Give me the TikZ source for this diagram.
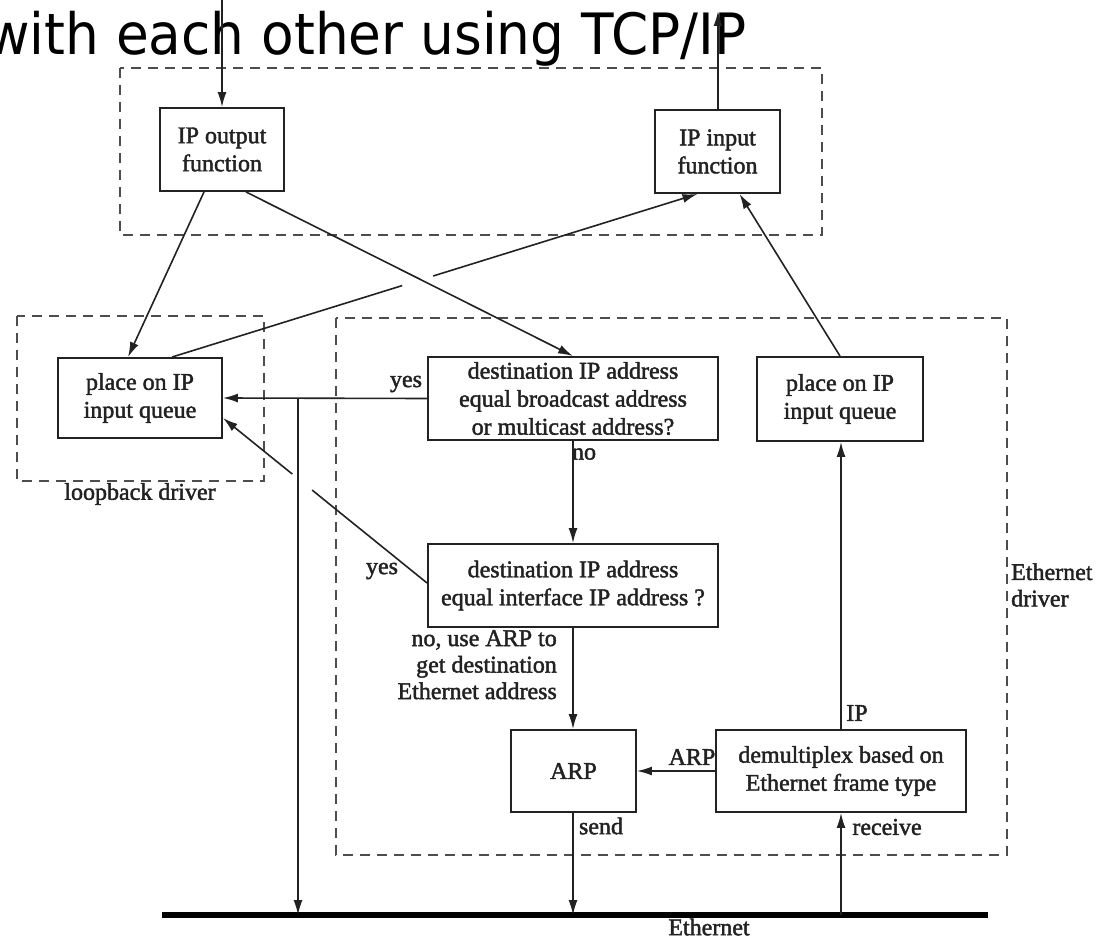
\documentclass[tikz,border=0pt]{standalone}
\usepackage{fontspec}
\newfontfamily\titlefont{DejaVu Sans}
\newfontfamily\palfont[FakeBold=1.8]{Liberation Serif}
\usetikzlibrary{arrows.meta,calc}
\definecolor{ink}{HTML}{222222}
\definecolor{dashink}{HTML}{4d4d4d}
\tikzset{
  box/.style={draw=ink, line width=1.9pt, inner sep=0pt, align=center,
    font=\palfont\fontsize{24}{28}\selectfont, text=ink},
  lbl/.style={inner sep=0pt, font=\palfont\fontsize{24}{26.5}\selectfont, text=ink},
  conn/.style={draw=ink, line width=1.6pt},
  arr/.style={conn, -{Latex[length=15pt,width=9pt]}},
  dashbox/.style={draw=dashink, line width=1.9pt, dash pattern=on 10pt off 7pt},
}
\begin{document}
\begin{tikzpicture}[x=1pt,y=-1pt]
\useasboundingbox (0,0) rectangle (1103,939);
% title
\node[anchor=base west, inner sep=0pt, text=black] (title) at (-14,55)
  {\scalebox{0.935}[1]{\titlefont\fontsize{57}{60}\selectfont with each other using TCP/IP}};
% dashed groups
\draw[dashbox] (120,68) rectangle (822,235);
\draw[dashbox] (17,316) rectangle (264,481);
\draw[dashbox] (336,318) rectangle (1007,855);
% boxes
\node[box, minimum width=124pt, minimum height=83pt] (ipout) at (222,149.5) {IP output\\function};
\node[box, minimum width=125pt, minimum height=83pt] (ipin) at (717.5,151.5) {IP input\\function};
\node[box, minimum width=164pt, minimum height=80pt] (lq) at (140,398) {place on IP\\input queue};
\node[box, minimum width=290pt, minimum height=83pt] (d1) at (573,398.5) {destination IP address\\equal broadcast address\\or multicast address?};
\node[box, minimum width=166pt, minimum height=84pt] (rq) at (840,399) {place on IP\\input queue};
\node[box, minimum width=290pt, minimum height=83pt] (d2) at (573,585.5) {destination IP address\\equal interface IP address ?};
\node[box, minimum width=125pt, minimum height=82pt] (arp) at (573.5,771) {ARP};
\node[box, minimum width=250pt, minimum height=82pt] (dmx) at (841,771) {demultiplex based on\\Ethernet frame type};
% Ethernet wire
\coordinate (eL) at (162,915);
\coordinate (eR) at (988,915);
\draw[draw=black, line width=5.5pt] (eL) -- (eR);
\coordinate (topin) at (222,-5);
\coordinate (topout) at (718,11);
\coordinate (j1) at (298,398);
% connectors
\draw[arr] (topin) -- (ipout.north);
\draw[arr] (ipin.north -| topout) -- (topout);
\draw[arr] ($(ipout.south)+(-18,0)$) -- ($(lq.north)+(-12,0)$);
\draw[arr] ($(ipout.south)+(24,0)$) -- (d1.north);
\coordinate (lqa) at ($(lq.north)+(32,0)$);
\coordinate (ipb) at ($(ipin.south)+(-20,0)$);
\draw[conn] (lqa) -- ($(lqa)!0.438!(ipb)$);
\draw[arr] ($(lqa)!0.497!(ipb)$) -- (ipb);
\draw[arr] (rq.north) -- ($(ipin.south)+(22,0)$);
\draw[arr] (d1.west) -- (lq.east);
\draw[arr] (j1) -- (j1 |- eL);
\coordinate (d2a) at ($(d2.west)+(0,-2.5)$);
\coordinate (lqb) at ($(lq.east)+(0,20)$);
\draw[conn] (d2a) -- ($(d2a)!0.563!(lqb)$);
\draw[arr] ($(d2a)!0.66!(lqb)$) -- (lqb);
\draw[arr] (d1.south) -- (d2.north);
\draw[arr] (d2.south) -- (arp.north -| d2.south);
\draw[arr] (arp.south -| d2.south) -- (eL -| d2.south);
\draw[arr] (dmx.west) -- (arp.east);
\draw[arr] (dmx.north) -- (rq.south -| dmx.north);
\draw[arr] (eL -| dmx.south) -- (dmx.south);
% labels
\node[lbl] (yes1) at (406,384) {yes};
\node[lbl] (yes2) at (382,571) {yes};
\node[lbl] (no1) at (584,454) {no};
\node[lbl, align=right, anchor=north east] (noarp) at (557,630) {no, use ARP to\\get destination\\Ethernet address};
\node[lbl] (send) at (601,826) {send};
\node[lbl] (arplbl) at (692,757) {ARP};
\node[lbl] (iplbl) at (857,713) {IP};
\node[lbl] (recv) at (887,827) {receive};
\node[lbl] (loopl) at (140,494) {loopback driver};
\node[lbl] (ethl) at (709,927) {Ethernet};
\node[lbl, align=left, anchor=west] (ethdrv) at (1011,585) {Ethernet\\driver};
\end{tikzpicture}
\end{document}
